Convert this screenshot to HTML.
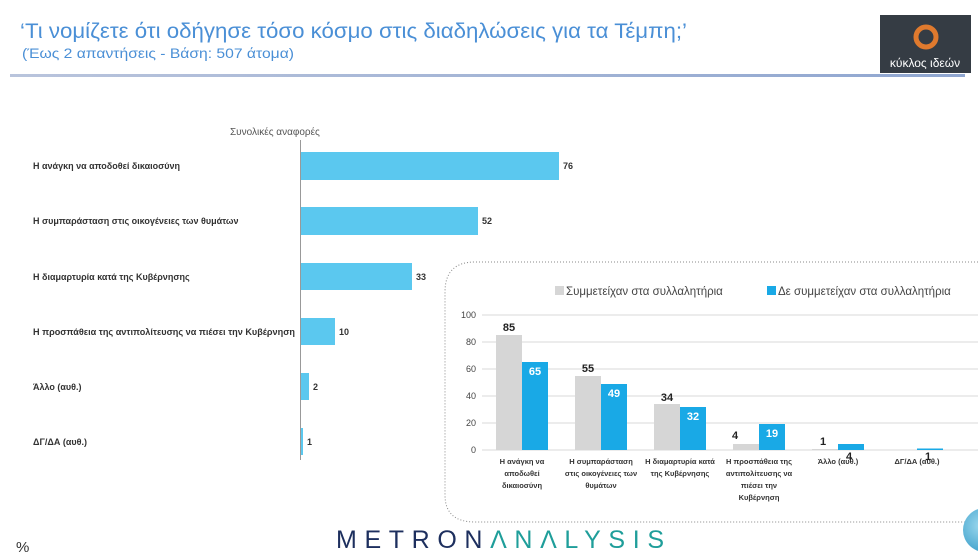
<!DOCTYPE html>
<html><head><meta charset="utf-8"><style>
html,body{margin:0;padding:0;background:#fff;width:978px;height:559px;overflow:hidden}
svg{display:block}
text{font-family:"Liberation Sans","DejaVu Sans",sans-serif}
</style></head><body>
<svg width="978" height="559" viewBox="0 0 978 559" xmlns="http://www.w3.org/2000/svg">
<defs>
<linearGradient id="hl" x1="0" x2="1"><stop offset="0" stop-color="#b9c4dc"/><stop offset="1" stop-color="#8fa6d0"/></linearGradient>
<radialGradient id="cg" cx="0.4" cy="0.4" r="0.7"><stop offset="0" stop-color="#9bd8ee"/><stop offset="1" stop-color="#3a9ec9"/></radialGradient>
</defs>
<text x="20" y="38" font-size="21" fill="#4a8fd6" textLength="667" lengthAdjust="spacingAndGlyphs">‘Τι νομίζετε ότι οδήγησε τόσο κόσμο στις διαδηλώσεις για τα Τέμπη;’</text>
<text x="22" y="58" font-size="14" fill="#4a8fd6" textLength="272" lengthAdjust="spacingAndGlyphs">(Έως 2 απαντήσεις - Βάση: 507 άτομα)</text>
<rect x="10" y="74" width="955" height="3" fill="url(#hl)"/>
<rect x="880" y="15" width="91" height="58" fill="#353c44"/>
<circle cx="926" cy="37" r="10" fill="none" stroke="#e07a2e" stroke-width="5"/>
<text x="925" y="67" font-size="12" fill="#fff" text-anchor="middle">κύκλος ιδεών</text>

<text x="230" y="135" font-size="10" fill="#555">Συνολικές αναφορές</text>
<line x1="300.5" y1="140" x2="300.5" y2="460" stroke="#999"/>
<g fill="#5bc8ef">
<rect x="301" y="152" width="258" height="28"/>
<rect x="301" y="207" width="177" height="28"/>
<rect x="301" y="263" width="111" height="27"/>
<rect x="301" y="318" width="34" height="27"/>
<rect x="301" y="373" width="8" height="27"/>
<rect x="301" y="428" width="2" height="27"/>
</g>
<g font-size="9" font-weight="bold" fill="#333">
<text x="33" y="169">Η ανάγκη να αποδοθεί δικαιοσύνη</text>
<text x="33" y="224">Η συμπαράσταση στις οικογένειες των θυμάτων</text>
<text x="33" y="280">Η διαμαρτυρία κατά της Κυβέρνησης</text>
<text x="33" y="335" textLength="262" lengthAdjust="spacingAndGlyphs">Η προσπάθεια της αντιπολίτευσης να πιέσει την Κυβέρνηση</text>
<text x="33" y="390">Άλλο  (αυθ.)</text>
<text x="33" y="445">ΔΓ/ΔΑ (αυθ.)</text>
<text x="563" y="169">76</text>
<text x="482" y="224">52</text>
<text x="416" y="280">33</text>
<text x="339" y="335">10</text>
<text x="313" y="390">2</text>
<text x="307" y="445">1</text>
</g>

<path d="M978 262 H475 Q445 262 445 292 V495 Q445 522 475 522 H978" fill="none" stroke="#888" stroke-width="1" stroke-dasharray="1,2"/>
<rect x="555" y="286" width="9" height="9" fill="#d6d6d6"/>
<text x="566" y="295" font-size="11.5" fill="#444">Συμμετείχαν στα συλλαλητήρια</text>
<rect x="767" y="286" width="9" height="9" fill="#19a9e6"/>
<text x="778" y="295" font-size="11.5" fill="#444">Δε συμμετείχαν στα συλλαλητήρια</text>
<g stroke="#d9d9d9">
<line x1="482" y1="315" x2="978" y2="315"/><line x1="482" y1="342" x2="978" y2="342"/>
<line x1="482" y1="369" x2="978" y2="369"/><line x1="482" y1="396" x2="978" y2="396"/>
<line x1="482" y1="423" x2="978" y2="423"/><line x1="482" y1="450" x2="978" y2="450"/>
</g>
<g font-size="9" fill="#444" text-anchor="end">
<text x="476" y="318">100</text><text x="476" y="345">80</text><text x="476" y="372">60</text>
<text x="476" y="399">40</text><text x="476" y="426">20</text><text x="476" y="453">0</text>
</g>
<g fill="#d6d6d6">
<rect x="496" y="335" width="26" height="115"/>
<rect x="575" y="376" width="26" height="74"/>
<rect x="654" y="404" width="26" height="46"/>
<rect x="733" y="444" width="26" height="6"/>
<rect x="812" y="449" width="26" height="1"/>
</g>
<g fill="#19a9e6">
<rect x="522" y="362" width="26" height="88"/>
<rect x="601" y="384" width="26" height="66"/>
<rect x="680" y="407" width="26" height="43"/>
<rect x="759" y="424" width="26" height="26"/>
<rect x="838" y="444" width="26" height="6"/>
<rect x="917" y="448.5" width="26" height="1.5"/>
</g>
<g font-size="11" font-weight="bold" text-anchor="middle">
<g fill="#222">
<text x="509" y="331">85</text><text x="588" y="372">55</text><text x="667" y="401">34</text>
<text x="735" y="439">4</text><text x="823" y="445">1</text><text x="849" y="460">4</text><text x="928" y="460">1</text>
</g>
<g fill="#fff">
<text x="535" y="375">65</text><text x="614" y="397">49</text><text x="693" y="420">32</text><text x="772" y="437">19</text>
</g>
</g>
<g font-size="7.5" font-weight="bold" fill="#333" text-anchor="middle">
<text x="522" y="464">Η ανάγκη να</text><text x="522" y="476">αποδωθεί</text><text x="522" y="488">δικαιοσύνη</text>
<text x="601" y="464">Η συμπαράσταση</text><text x="601" y="476">στις οικογένειες των</text><text x="601" y="488">θυμάτων</text>
<text x="680" y="464">Η διαμαρτυρία κατά</text><text x="680" y="476">της Κυβέρνησης</text>
<text x="759" y="464">Η προσπάθεια της</text><text x="759" y="476">αντιπολίτευσης να</text><text x="759" y="488">πιέσει την</text><text x="759" y="500">Κυβέρνηση</text>
<text x="838" y="464">Άλλο  (αυθ.)</text>
<text x="917" y="464">ΔΓ/ΔΑ (αυθ.)</text>
</g>

<text x="16" y="552" font-size="15" fill="#333">%</text>
<text x="336" y="548" font-size="25" fill="#1d2f5e" textLength="328" lengthAdjust="spacing">METRON<tspan fill="#1f9e9a">ΛNΛLYSIS</tspan></text>
<circle cx="985" cy="530" r="22" fill="url(#cg)"/>
</svg>
</body></html>
